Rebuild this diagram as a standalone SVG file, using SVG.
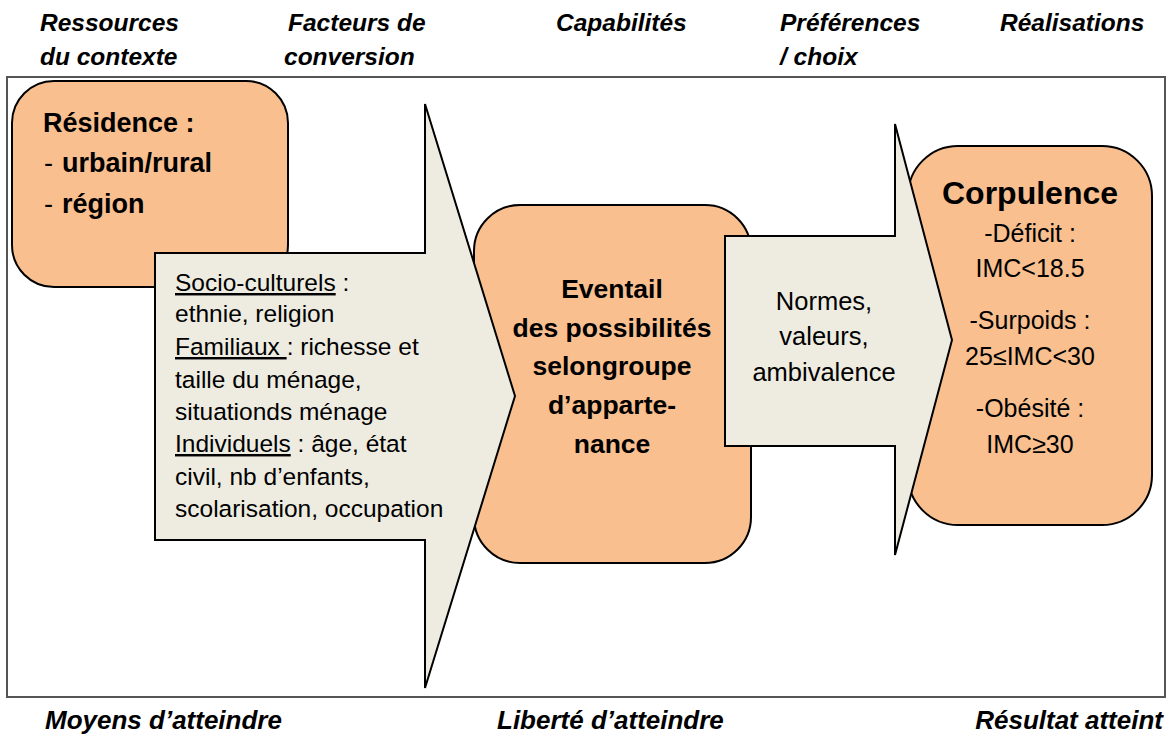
<svg xmlns="http://www.w3.org/2000/svg" width="1170" height="736" viewBox="0 0 1170 736">
<style>
.lbl{font-family:"Liberation Sans",Arial,sans-serif;font-weight:bold;font-style:italic;font-size:24.5px;fill:#000}
.bl{font-size:26px}
.box{fill:#F9BF8F;stroke:#000;stroke-width:2}
.arr{fill:#EEECE1;stroke:#000;stroke-width:2;stroke-linejoin:miter}
.b{font-family:"Liberation Sans",Arial,sans-serif;font-weight:bold;fill:#000}
.r{font-family:"Liberation Sans",Arial,sans-serif;fill:#000}
.u{text-decoration:underline}
</style>
<rect width="1170" height="736" fill="#fff"/>
<g id="headers">
<text class="lbl" x="40" y="31">Ressources</text>
<text class="lbl" x="40" y="65">du contexte</text>
<text class="lbl" x="288" y="31">Facteurs de</text>
<text class="lbl" x="284" y="65">conversion</text>
<text class="lbl" x="556" y="31">Capabilités</text>
<text class="lbl" x="780" y="31">Préférences</text>
<text class="lbl" x="780" y="65">/ choix</text>
<text class="lbl" x="1000" y="31">Réalisations</text>
<text class="lbl bl" x="45" y="729">Moyens d’atteindre</text>
<text class="lbl bl" x="497" y="729">Liberté d’atteindre</text>
<text class="lbl bl" x="1163" y="729" text-anchor="end">Résultat atteint</text>
</g>
<rect id="frame" x="7" y="77" width="1158" height="620" fill="none" stroke="#555" stroke-width="2"/>
<g id="residence">
<rect class="box" x="12" y="81" width="276" height="206" rx="42" ry="42"/>
<text class="b" font-size="27" x="43" y="132">Résidence :</text>
<text class="b" font-size="27" y="172"><tspan x="44" font-weight="normal">-</tspan><tspan x="62">urbain/rural</tspan></text>
<text class="b" font-size="27" y="213"><tspan x="44" font-weight="normal">-</tspan><tspan x="62">région</tspan></text>
</g>
<g id="eventail">
<rect class="box" x="474" y="205" width="277" height="358" rx="46" ry="46"/>
<g class="b" font-size="26.5" text-anchor="middle">
<text x="612" y="298">Eventail</text>
<text x="612" y="337">des possibilités</text>
<text x="612" y="375">selongroupe</text>
<text x="612" y="414">d’apparte-</text>
<text x="612" y="453">nance</text>
</g>
</g>
<g id="corpulence">
<rect class="box" x="908" y="146" width="244" height="379" rx="50" ry="50"/>
<text class="b" font-size="32" text-anchor="middle" x="1030" y="204">Corpulence</text>
<g class="r" font-size="25" text-anchor="middle">
<text x="1030" y="242">-Déficit :</text>
<text x="1030" y="277">IMC&lt;18.5</text>
<text x="1030" y="329">-Surpoids :</text>
<text x="1030" y="365">25≤IMC&lt;30</text>
<text x="1030" y="417">-Obésité :</text>
<text x="1030" y="453">IMC≥30</text>
</g>
</g>
<g id="connectors">
<g id="facteurs">
<polygon class="arr" points="155,253 425,253 425,104 515,396 425,688 425,540 155,540"/>
<g class="r" font-size="24.5">
<text x="175" y="291"><tspan class="u">Socio-culturels</tspan> :</text>
<text x="175" y="322">ethnie, religion</text>
<text x="175" y="355"><tspan class="u" xml:space="preserve">Familiaux </tspan>: richesse et</text>
<text x="175" y="388">taille du ménage,</text>
<text x="175" y="420">situationds ménage</text>
<text x="175" y="452"><tspan class="u">Individuels</tspan> : âge, état</text>
<text x="175" y="485">civil, nb d’enfants,</text>
<text x="175" y="517">scolarisation, occupation</text>
</g>
</g>
<g id="preferences">
<polygon class="arr" points="725,236 895,236 895,124 952,340 895,555 895,446 725,446"/>
<g class="r" font-size="25.5" text-anchor="middle">
<text x="824" y="310">Normes,</text>
<text x="824" y="345">valeurs,</text>
<text x="824" y="381">ambivalence</text>
</g>
</g>
</g>
</svg>
